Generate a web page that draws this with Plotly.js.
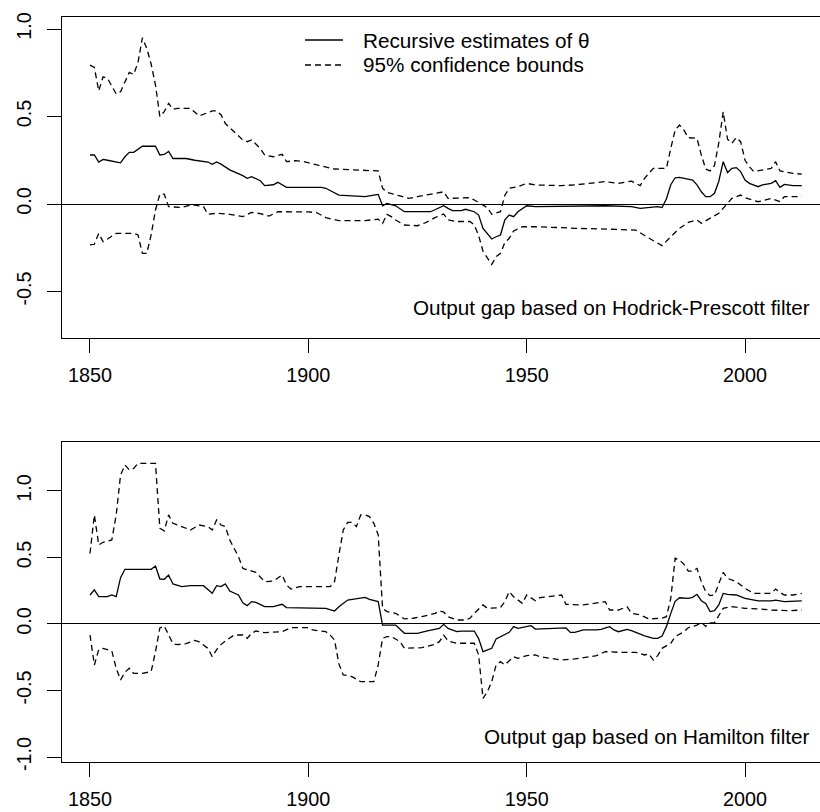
<!DOCTYPE html>
<html>
<head>
<meta charset="utf-8">
<script src="https://cdn.plot.ly/plotly-3.0.1.min.js"></script>
<style>html,body{margin:0;padding:0;background:#fff;} #chart{width:820px;height:812px;}</style>
</head>
<body>
<div id="chart"></div>
<script>
// ---- Data ----
const xTickVals = [1850, 1900, 1950, 2000];
const xTickText = ["1850", "1900", "1950", "2000"];
const topYTickVals = [-0.5, 0, 0.5, 1];
const topYTickText = ["-0.5", "0.0", "0.5", "1.0"];
const botYTickVals = [-1, -0.5, 0, 0.5, 1];
const botYTickText = ["-1.0", "-0.5", "0.0", "0.5", "1.0"];
const seriesNames = ["Recursive estimates of \u03b8", "95% confidence bounds"];
const panelLabels = ["Output gap based on Hodrick-Prescott filter", "Output gap based on Hamilton filter"];

// Hodrick-Prescott panel: [year, value]
const hpEstimate = [[1850,0.28],[1851,0.28],[1852,0.24],[1853,0.255],[1854,0.25],[1856,0.24],[1857,0.235],[1858,0.27],[1859,0.295],[1860,0.295],[1862,0.33],[1865,0.33],[1866,0.28],[1867,0.283],[1868,0.30],[1869,0.26],[1872,0.26],[1874,0.25],[1877,0.24],[1878,0.227],[1879,0.24],[1880,0.228],[1882,0.195],[1885,0.162],[1886,0.147],[1887,0.156],[1889,0.133],[1890,0.105],[1892,0.11],[1893,0.124],[1895,0.095],[1903,0.095],[1904,0.09],[1907,0.051],[1913,0.042],[1915,0.051],[1916,0.055],[1917,-0.01],[1918,0.003],[1920,-0.01],[1922,-0.044],[1928,-0.044],[1929,-0.034],[1931,-0.01],[1932,-0.025],[1933,-0.038],[1935,-0.038],[1936,-0.03],[1938,-0.044],[1939,-0.063],[1940,-0.139],[1942,-0.2],[1943,-0.187],[1944,-0.177],[1945,-0.091],[1946,-0.063],[1947,-0.072],[1948,-0.044],[1950,-0.01],[1952,-0.015],[1968,-0.01],[1974,-0.015],[1976,-0.025],[1978,-0.022],[1980,-0.015],[1981,-0.02],[1982,0.03],[1983,0.11],[1984,0.15],[1985,0.152],[1987,0.143],[1988,0.137],[1989,0.109],[1990,0.07],[1991,0.042],[1992,0.042],[1993,0.061],[1994,0.13],[1995,0.242],[1996,0.18],[1997,0.204],[1998,0.208],[1999,0.185],[2000,0.137],[2001,0.118],[2003,0.099],[2004,0.109],[2006,0.118],[2007,0.133],[2008,0.095],[2009,0.112],[2010,0.109],[2011,0.105],[2013,0.105]];
const hpUpper = [[1850,0.794],[1851,0.78],[1852,0.646],[1853,0.727],[1854,0.718],[1855,0.67],[1856,0.629],[1857,0.642],[1858,0.699],[1859,0.752],[1860,0.74],[1861,0.81],[1862,0.95],[1863,0.89],[1864,0.8],[1865,0.68],[1866,0.5],[1867,0.528],[1868,0.575],[1869,0.541],[1870,0.547],[1873,0.547],[1875,0.503],[1877,0.524],[1878,0.532],[1879,0.532],[1880,0.51],[1881,0.46],[1883,0.413],[1885,0.366],[1886,0.356],[1887,0.366],[1889,0.318],[1890,0.28],[1892,0.27],[1894,0.284],[1895,0.242],[1897,0.248],[1899,0.242],[1901,0.227],[1902,0.223],[1906,0.2],[1910,0.194],[1916,0.189],[1917,0.09],[1918,0.067],[1921,0.046],[1923,0.032],[1925,0.042],[1929,0.061],[1931,0.07],[1932,0.032],[1935,0.036],[1937,0.036],[1938,0.023],[1941,-0.021],[1942,-0.059],[1944,-0.044],[1945,0.05],[1946,0.09],[1948,0.099],[1950,0.118],[1952,0.109],[1958,0.105],[1961,0.109],[1968,0.128],[1971,0.118],[1974,0.131],[1976,0.105],[1977,0.147],[1979,0.204],[1982,0.204],[1983,0.318],[1984,0.423],[1985,0.451],[1986,0.423],[1987,0.379],[1989,0.375],[1990,0.28],[1991,0.2],[1992,0.189],[1993,0.22],[1994,0.35],[1995,0.527],[1996,0.37],[1997,0.347],[1998,0.379],[1999,0.356],[2000,0.25],[2001,0.213],[2002,0.185],[2004,0.194],[2006,0.204],[2007,0.242],[2008,0.189],[2009,0.185],[2011,0.175],[2013,0.171]];
const hpLower = [[1850,-0.234],[1851,-0.23],[1852,-0.168],[1853,-0.215],[1854,-0.2],[1856,-0.168],[1860,-0.168],[1861,-0.177],[1862,-0.282],[1863,-0.282],[1864,-0.177],[1865,-0.034],[1866,0.057],[1867,0.057],[1868,-0.015],[1870,-0.02],[1871,-0.02],[1873,-0.006],[1874,-0.006],[1876,-0.015],[1877,-0.059],[1879,-0.053],[1882,-0.059],[1885,-0.072],[1887,-0.048],[1889,-0.055],[1891,-0.069],[1893,-0.044],[1897,-0.044],[1900,-0.045],[1902,-0.05],[1904,-0.078],[1907,-0.095],[1913,-0.095],[1916,-0.086],[1917,-0.111],[1918,-0.059],[1919,-0.072],[1920,-0.091],[1922,-0.12],[1925,-0.124],[1927,-0.105],[1929,-0.078],[1931,-0.057],[1932,-0.091],[1934,-0.1],[1937,-0.1],[1938,-0.12],[1939,-0.18],[1940,-0.27],[1942,-0.345],[1943,-0.301],[1944,-0.282],[1945,-0.22],[1946,-0.196],[1947,-0.154],[1949,-0.13],[1952,-0.13],[1958,-0.135],[1961,-0.139],[1968,-0.143],[1975,-0.149],[1977,-0.18],[1979,-0.211],[1981,-0.238],[1983,-0.187],[1985,-0.139],[1987,-0.105],[1989,-0.091],[1990,-0.11],[1992,-0.082],[1994,-0.053],[1996,0.004],[1997,0.032],[1999,0.051],[2000,0.036],[2003,0.013],[2005,0.023],[2006,0.032],[2008,0.013],[2009,0.042],[2013,0.042]];

// Hamilton panel: [year, value]
const hmEstimate = [[1850,0.218],[1851,0.256],[1852,0.206],[1854,0.206],[1855,0.218],[1856,0.206],[1857,0.348],[1858,0.411],[1864,0.411],[1865,0.436],[1866,0.338],[1867,0.336],[1868,0.368],[1869,0.301],[1871,0.281],[1873,0.288],[1876,0.288],[1878,0.231],[1879,0.288],[1880,0.281],[1881,0.301],[1882,0.248],[1884,0.218],[1885,0.16],[1886,0.138],[1887,0.168],[1888,0.163],[1890,0.13],[1892,0.13],[1894,0.148],[1895,0.123],[1902,0.123],[1904,0.118],[1906,0.097],[1907,0.13],[1909,0.18],[1911,0.188],[1913,0.2],[1914,0.185],[1916,0.168],[1917,-0.008],[1920,-0.008],[1922,-0.07],[1925,-0.07],[1927,-0.053],[1930,-0.033],[1931,-0.003],[1932,-0.033],[1934,-0.058],[1935,-0.053],[1938,-0.053],[1939,-0.11],[1940,-0.208],[1942,-0.183],[1943,-0.113],[1945,-0.083],[1946,-0.063],[1947,-0.02],[1948,-0.033],[1951,-0.013],[1952,-0.038],[1959,-0.03],[1960,-0.063],[1961,-0.063],[1963,-0.045],[1966,-0.045],[1967,-0.04],[1969,-0.02],[1970,-0.045],[1971,-0.058],[1973,-0.04],[1974,-0.05],[1976,-0.078],[1977,-0.09],[1979,-0.108],[1980,-0.108],[1981,-0.09],[1982,-0.02],[1983,0.08],[1984,0.17],[1985,0.197],[1987,0.193],[1988,0.2],[1989,0.223],[1990,0.175],[1991,0.155],[1992,0.093],[1993,0.1],[1994,0.143],[1995,0.23],[1996,0.223],[1998,0.218],[2000,0.193],[2002,0.18],[2003,0.173],[2006,0.173],[2007,0.18],[2009,0.168],[2010,0.168],[2013,0.173]];
const hmUpper = [[1850,0.53],[1851,0.82],[1852,0.594],[1853,0.614],[1855,0.632],[1856,0.82],[1857,1.12],[1858,1.195],[1859,1.158],[1860,1.17],[1861,1.208],[1865,1.208],[1866,0.72],[1867,0.7],[1868,0.82],[1869,0.757],[1871,0.732],[1873,0.707],[1875,0.744],[1877,0.732],[1878,0.707],[1879,0.782],[1880,0.744],[1881,0.732],[1882,0.632],[1883,0.569],[1884,0.506],[1885,0.418],[1887,0.398],[1888,0.388],[1890,0.318],[1892,0.323],[1894,0.368],[1895,0.293],[1896,0.263],[1898,0.281],[1905,0.281],[1906,0.318],[1907,0.519],[1908,0.707],[1909,0.764],[1910,0.764],[1911,0.732],[1912,0.82],[1913,0.82],[1914,0.807],[1915,0.757],[1916,0.67],[1917,0.118],[1918,0.093],[1920,0.08],[1922,0.038],[1924,0.043],[1926,0.055],[1929,0.08],[1930,0.098],[1931,0.09],[1932,0.055],[1934,0.03],[1936,0.03],[1937,0.043],[1938,0.08],[1940,0.143],[1941,0.118],[1944,0.123],[1945,0.168],[1946,0.243],[1947,0.205],[1949,0.155],[1950,0.218],[1952,0.175],[1953,0.198],[1958,0.218],[1959,0.148],[1963,0.143],[1966,0.155],[1968,0.168],[1969,0.105],[1971,0.105],[1973,0.13],[1974,0.08],[1976,0.068],[1978,0.038],[1981,0.043],[1982,0.055],[1983,0.193],[1984,0.494],[1985,0.481],[1986,0.45],[1987,0.398],[1988,0.398],[1989,0.418],[1990,0.318],[1991,0.243],[1992,0.213],[1993,0.218],[1994,0.306],[1995,0.388],[1996,0.343],[1998,0.318],[2000,0.268],[2002,0.23],[2006,0.23],[2007,0.263],[2008,0.238],[2009,0.218],[2011,0.218],[2013,0.23]];
const hmLower = [[1850,-0.083],[1851,-0.308],[1852,-0.193],[1853,-0.183],[1855,-0.203],[1856,-0.333],[1857,-0.421],[1858,-0.363],[1859,-0.333],[1860,-0.371],[1862,-0.371],[1864,-0.358],[1865,-0.208],[1866,-0.03],[1867,-0.015],[1868,-0.083],[1869,-0.148],[1870,-0.155],[1872,-0.148],[1874,-0.123],[1875,-0.135],[1877,-0.183],[1878,-0.246],[1879,-0.193],[1880,-0.155],[1881,-0.128],[1883,-0.083],[1885,-0.083],[1886,-0.108],[1887,-0.07],[1888,-0.053],[1890,-0.065],[1894,-0.058],[1896,-0.028],[1900,-0.028],[1901,-0.045],[1904,-0.058],[1905,-0.083],[1906,-0.12],[1907,-0.3],[1908,-0.383],[1909,-0.388],[1910,-0.396],[1912,-0.434],[1915,-0.434],[1916,-0.308],[1917,-0.108],[1918,-0.095],[1919,-0.095],[1921,-0.133],[1922,-0.183],[1926,-0.178],[1929,-0.153],[1930,-0.133],[1931,-0.083],[1932,-0.128],[1934,-0.145],[1938,-0.145],[1939,-0.233],[1940,-0.56],[1941,-0.509],[1942,-0.434],[1943,-0.308],[1944,-0.283],[1945,-0.308],[1947,-0.246],[1948,-0.258],[1950,-0.238],[1952,-0.233],[1953,-0.246],[1958,-0.271],[1961,-0.263],[1966,-0.238],[1968,-0.208],[1971,-0.213],[1975,-0.213],[1977,-0.233],[1978,-0.225],[1979,-0.271],[1980,-0.238],[1981,-0.183],[1983,-0.145],[1984,-0.095],[1986,-0.058],[1987,-0.028],[1989,-0.008],[1990,0.013],[1991,-0.018],[1992,0.008],[1993,0.008],[1994,0.068],[1995,0.118],[1997,0.13],[2000,0.118],[2003,0.113],[2006,0.105],[2010,0.1],[2013,0.105]];

// ---- Styling ----
const FONT = "Liberation Sans, Arial, Helvetica, sans-serif";
const INK = "#000000";
const DASH = "6px,4px";
const LW = 1.3;

function mk(pairs, xa, ya, dash, name) {
  return {
    type: "scatter", mode: "lines",
    x: pairs.map(p => p[0]), y: pairs.map(p => p[1]),
    xaxis: xa, yaxis: ya,
    line: {color: INK, width: LW, dash: dash},
    name: name, showlegend: false, hoverinfo: "skip"
  };
}

const traces = [
  mk(hpEstimate, "x", "y", "solid", seriesNames[0]),
  mk(hpUpper, "x", "y", DASH, seriesNames[1]),
  mk(hpLower, "x", "y", DASH, seriesNames[1]),
  mk(hmEstimate, "x2", "y2", "solid", seriesNames[0]),
  mk(hmUpper, "x2", "y2", DASH, seriesNames[1]),
  mk(hmLower, "x2", "y2", DASH, seriesNames[1])
];

const xCommon = {
  range: [1843.59, 2017.17], tickmode: "array", tickvals: xTickVals, ticktext: xTickText,
  ticks: "outside", ticklen: 14, tickwidth: 1, tickcolor: INK, ticklabelstandoff: 5,
  showline: true, linecolor: INK, linewidth: 1, mirror: true,
  showgrid: false, zeroline: false,
  tickfont: {family: FONT, size: 19.8, color: INK}, fixedrange: true
};
const yCommon = {
  tickmode: "array", ticks: "outside", ticklen: 14, tickwidth: 1, tickcolor: INK, ticklabelstandoff: 8,
  showline: true, linecolor: INK, linewidth: 1, mirror: false,
  showgrid: false, zeroline: true, zerolinecolor: INK, zerolinewidth: 1,
  tickangle: -90, tickfont: {family: FONT, size: 19.8, color: INK}, fixedrange: true
};

// legend key (placed like R's legend box in the top panel)
const keyX0 = 0.3206, keyX1 = 0.3707, keyTextX = 0.3958;
const keyY = [0.9691, 0.9356];

const layout = {
  width: 820, height: 812,
  margin: {l: 62, r: 0, t: 17, b: 50, pad: 0},
  paper_bgcolor: "#ffffff", plot_bgcolor: "#ffffff",
  font: {family: FONT, color: INK, size: 20},
  showlegend: false,
  xaxis: Object.assign({}, xCommon, {anchor: "y", domain: [0, 1]}),
  yaxis: Object.assign({}, yCommon, {anchor: "x", domain: [0.5691, 1], range: [-0.7657, 1.0686],
    tickvals: topYTickVals, ticktext: topYTickText}),
  xaxis2: Object.assign({}, xCommon, {anchor: "y2", domain: [0, 1]}),
  yaxis2: Object.assign({}, yCommon, {anchor: "x2", domain: [0, 0.4295], range: [-1.0376, 1.368],
    tickvals: botYTickVals, ticktext: botYTickText}),
  shapes: [
    {type: "line", xref: "paper", yref: "paper", x0: keyX0, x1: keyX1, y0: keyY[0], y1: keyY[0],
     line: {color: INK, width: LW, dash: "solid"}},
    {type: "line", xref: "paper", yref: "paper", x0: keyX0, x1: keyX1, y0: keyY[1], y1: keyY[1],
     line: {color: INK, width: LW, dash: DASH}}
  ],
  annotations: [
    {text: seriesNames[0], xref: "paper", yref: "paper", x: keyTextX, y: keyY[0],
     xanchor: "left", yanchor: "middle", showarrow: false, borderpad: 0,
     font: {family: FONT, size: 20.7, color: INK}},
    {text: seriesNames[1], xref: "paper", yref: "paper", x: keyTextX, y: keyY[1],
     xanchor: "left", yanchor: "middle", showarrow: false, borderpad: 0,
     font: {family: FONT, size: 20.7, color: INK}},
    {text: panelLabels[0], xref: "paper", yref: "paper", x: 0.9894, y: 0.6094,
     xanchor: "right", yanchor: "middle", showarrow: false,
     font: {family: FONT, size: 20.7, color: INK}},
    {text: panelLabels[1], xref: "paper", yref: "paper", x: 0.9895, y: 0.0336,
     xanchor: "right", yanchor: "middle", showarrow: false,
     font: {family: FONT, size: 20.7, color: INK}}
  ]
};

Plotly.newPlot("chart", traces, layout, {staticPlot: true, displayModeBar: false});
</script>
</body>
</html>
